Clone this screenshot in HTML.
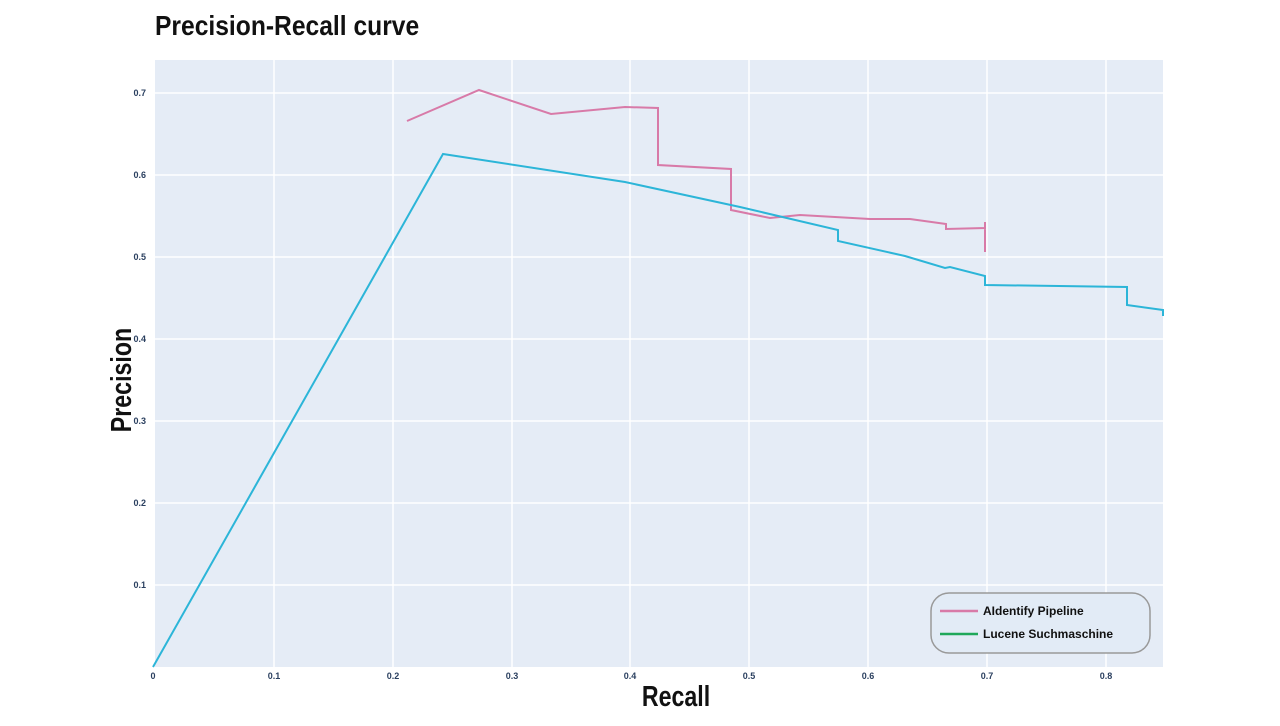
<!DOCTYPE html>
<html><head><meta charset="utf-8"><style>
body{margin:0;background:#fff;width:1280px;height:721px;overflow:hidden;font-family:"Liberation Sans",sans-serif}
</style></head><body>
<svg width="1280" height="721" xmlns="http://www.w3.org/2000/svg">
<text x="155" y="35" font-family="Liberation Sans Narrow, Liberation Sans, sans-serif" font-weight="bold" font-size="28" fill="#111" transform="translate(155,0) scale(0.88,1) translate(-155,0)">Precision-Recall curve</text>
<rect x="155" y="60" width="1008" height="607" fill="#e5ecf6"/>
<g stroke="#fff" stroke-width="1.5">
<line x1="274" y1="60" x2="274" y2="667"/><line x1="393" y1="60" x2="393" y2="667"/><line x1="512" y1="60" x2="512" y2="667"/><line x1="630" y1="60" x2="630" y2="667"/><line x1="749" y1="60" x2="749" y2="667"/><line x1="868" y1="60" x2="868" y2="667"/><line x1="987" y1="60" x2="987" y2="667"/><line x1="1106" y1="60" x2="1106" y2="667"/>
<line x1="155" y1="585" x2="1163" y2="585"/><line x1="155" y1="503" x2="1163" y2="503"/><line x1="155" y1="421" x2="1163" y2="421"/><line x1="155" y1="339" x2="1163" y2="339"/><line x1="155" y1="257" x2="1163" y2="257"/><line x1="155" y1="175" x2="1163" y2="175"/><line x1="155" y1="93" x2="1163" y2="93"/>
</g>
<g font-size="9" font-weight="bold" fill="#2a3f5f" text-anchor="end">
<text x="146" y="96">0.7</text><text x="146" y="178">0.6</text><text x="146" y="260">0.5</text><text x="146" y="342">0.4</text><text x="146" y="424">0.3</text><text x="146" y="506">0.2</text><text x="146" y="588">0.1</text>
</g>
<g font-size="9" font-weight="bold" fill="#2a3f5f" text-anchor="middle">
<text x="153" y="679">0</text><text x="274" y="679">0.1</text><text x="393" y="679">0.2</text><text x="512" y="679">0.3</text><text x="630" y="679">0.4</text><text x="749" y="679">0.5</text><text x="868" y="679">0.6</text><text x="987" y="679">0.7</text><text x="1106" y="679">0.8</text>
</g>
<text x="676" y="706" text-anchor="middle" font-weight="bold" font-size="29" fill="#111" transform="translate(676,0) scale(0.8,1) translate(-676,0)">Recall</text>
<text x="0" y="0" text-anchor="middle" font-weight="bold" font-size="29" fill="#111" transform="translate(131,380) rotate(-90) scale(0.8,1)">Precision</text>
<polyline fill="none" stroke="#d87aa8" stroke-width="2" points="407,121 479,90 551,114 625,107 658,108 658,165 731,169 731,210 770,218 800,215 870,219 910,219 946,224 946,229 985,228 985,222 985,252"/>
<polyline fill="none" stroke="#2cb5d8" stroke-width="2" points="153,667 443,154 625,182 740,207 838,230 838,241 905,256 945,268 950,267 985,276 985,285 1127,287 1127,305 1163,310 1163,316"/>
<rect x="931" y="593" width="219" height="60" rx="18" fill="#e2ebf6" stroke="#999" stroke-width="1.5"/>
<line x1="940" y1="611" x2="978" y2="611" stroke="#d87aa8" stroke-width="2.5"/>
<line x1="940" y1="634" x2="978" y2="634" stroke="#1fa85a" stroke-width="2.5"/>
<text x="983" y="615" font-size="12" font-weight="bold" fill="#111">AIdentify Pipeline</text>
<text x="983" y="638" font-size="12" font-weight="bold" fill="#111">Lucene Suchmaschine</text>
</svg>
</body></html>
